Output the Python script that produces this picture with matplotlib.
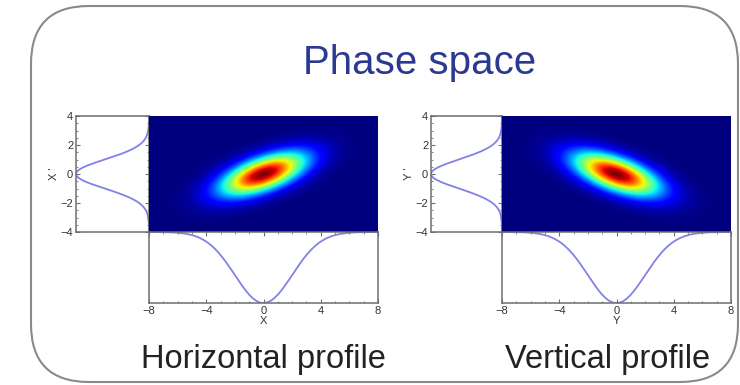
import numpy as np
import matplotlib
matplotlib.use("Agg")
import matplotlib.pyplot as plt
from matplotlib.patches import FancyBboxPatch

# -----------------------------
# 1. Paramètres du faisceau
# -----------------------------
panels = ["Horizontal profile", "Vertical profile"]
axis_names = ["X", "Y"]
sigma_pos = [2.0, 2.0]      # largeur du profil (X, Y)
sigma_ang = [1.0, 1.0]      # largeur du profil (X', Y')
correlation = [0.6, -0.6]   # inclinaison de l'ellipse
x_ticks = [-8, -4, 0, 4, 8]
y_ticks = [-4, -2, 0, 2, 4]

TITLE_COLOR = "#2b3990"
CURVE_COLOR = "#6262e2"
SPINE_COLOR = "#6e6e6e"

plt.rcParams["font.family"] = ["Liberation Sans", "DejaVu Sans"]

fig = plt.figure(figsize=(7.4, 3.85), dpi=100)

# -----------------------------
# 2. Cadre arrondi + titres
# -----------------------------
bg = fig.add_axes([0, 0, 1, 1])
bg.set_xlim(0, 740)
bg.set_ylim(385, 0)
bg.axis("off")
r = 58
bg.add_patch(FancyBboxPatch((31 + r, 6 + r), 738 - 31 - 2 * r, 382 - 6 - 2 * r,
                            boxstyle="round,pad=%d" % r, fc="white",
                            ec="#8a8a8a", lw=1.5))
bg.text(420, 74, "Phase space", ha="center", va="baseline",
        fontsize=29, color=TITLE_COLOR)
bg.text(263, 368, panels[0], ha="center", va="baseline",
        fontsize=23.5, color="#222222")
bg.text(608, 368, panels[1], ha="center", va="baseline",
        fontsize=23.5, color="#222222")

# -----------------------------
# 3. Les deux espaces des phases
# -----------------------------
lefts = [76, 431]
for k in range(2):
    x0 = lefts[k]
    side_w = 73 if k == 0 else 71
    sx, sy, rho = sigma_pos[k], sigma_ang[k], correlation[k]

    ax_side = fig.add_axes([x0 / 740, 1 - 232 / 385, side_w / 740, 116 / 385])
    ax_img = fig.add_axes([(x0 + side_w) / 740, 1 - 232 / 385, 229 / 740, 116 / 385])
    ax_bot = fig.add_axes([(x0 + side_w) / 740, 1 - 303 / 385, 229 / 740, 71 / 385])

    # densité 2D
    gx = np.linspace(-8, 8, 400)
    gy = np.linspace(-4, 4, 200)
    X, Y = np.meshgrid(gx, gy)
    cov = np.array([[sx**2, rho * sx * sy], [rho * sx * sy, sy**2]])
    inv = np.linalg.inv(cov)
    Z = np.exp(-0.5 * (inv[0, 0] * X**2 + 2 * inv[0, 1] * X * Y + inv[1, 1] * Y**2))
    ax_img.imshow(Z, extent=[-8, 8, -4, 4], origin="lower", cmap="jet",
                  aspect="auto", interpolation="bilinear")
    ax_img.set_xticks([])
    ax_img.set_yticks([])
    for s in ax_img.spines.values():
        s.set_visible(False)

    # profil vertical (X' / Y')
    py = np.linspace(-4, 4, 300)
    ax_side.plot(np.exp(-0.5 * (py / sy) ** 2), py, color=CURVE_COLOR, lw=1.3, alpha=0.8)
    ax_side.set_xlim(1.0, 0.0)
    ax_side.set_ylim(-4, 4)
    ax_side.set_yticks(y_ticks)
    ax_side.set_xticks([])
    ax_side.set_ylabel(axis_names[k] + " '", fontsize=8, color="#333333", labelpad=1)

    # profil horizontal (X / Y)
    px = np.linspace(-8, 8, 400)
    ax_bot.plot(px, np.exp(-0.5 * (px / sx) ** 2), color=CURVE_COLOR, lw=1.3, alpha=0.8)
    ax_bot.set_xlim(-8, 8)
    ax_bot.set_ylim(1.0, 0.0)
    ax_bot.set_xticks(x_ticks)
    ax_bot.set_yticks([])
    ax_bot.set_xlabel(axis_names[k], fontsize=8, color="#333333", labelpad=0)

    for ax in (ax_side, ax_bot):
        ax.minorticks_on()
        ax.tick_params(which="both", direction="in", top=True, right=True,
                       labelsize=8, labelcolor="#333333", color=SPINE_COLOR, pad=2)
        ax.tick_params(which="major", length=3)
        ax.tick_params(which="minor", length=1.5)
        for s in ax.spines.values():
            s.set_color(SPINE_COLOR)
            s.set_linewidth(1.1)

plt.savefig("out.png", dpi=100)
